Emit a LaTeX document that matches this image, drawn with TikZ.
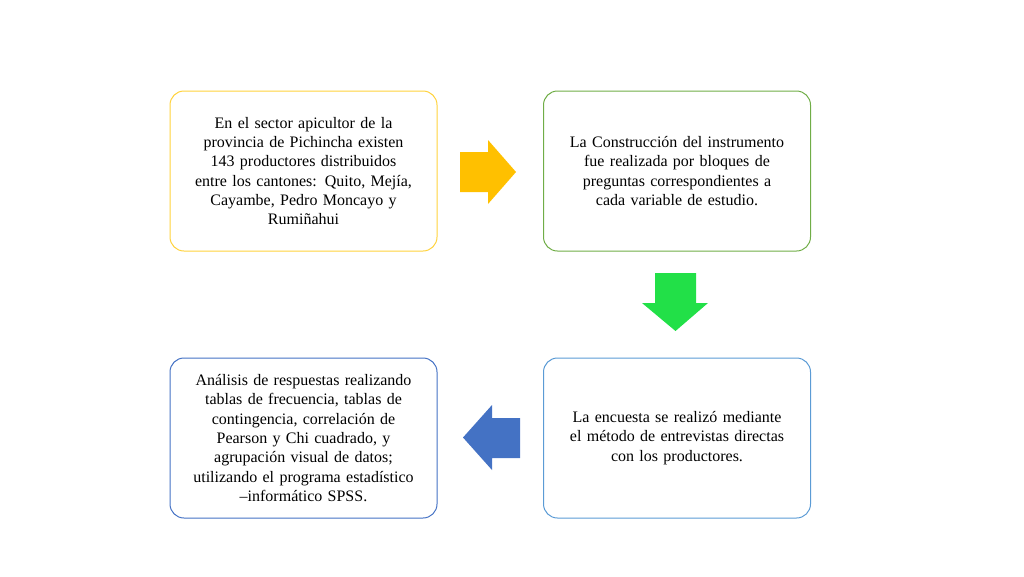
\documentclass[tikz,border=0pt]{standalone}
\usepackage{fontspec}
\setmainfont{Liberation Serif}
\definecolor{cy}{RGB}{255,210,60}
\definecolor{cg}{RGB}{112,173,71}
\definecolor{cl}{RGB}{91,155,213}
\definecolor{cd}{RGB}{68,114,196}
\definecolor{ay}{RGB}{255,192,0}
\definecolor{ag}{RGB}{34,224,72}
\begin{document}
\begin{tikzpicture}[x=1pt,y=-1pt,
  box/.style={draw=#1,line width=1pt,rounded corners=14pt,minimum width=267pt,minimum height=160pt,align=center,text width=250pt,font=\fontsize{16}{19.3}\selectfont,inner sep=0pt}]
\useasboundingbox (0,0) rectangle (1024,576);
\node[box=cy] (a) at (303.5,171) {En el sector apicultor de la\\provincia de Pichincha existen\\143 productores distribuidos\\entre los cantones: Quito, Mejía,\\Cayambe, Pedro Moncayo y\\Rumiñahui};
\node[box=cg] (b) at (677,171) {La Construcción del instrumento\\fue realizada por bloques de\\preguntas correspondientes a\\cada variable de estudio.};
\node[box=cl] (c) at (677,438) {La encuesta se realizó mediante\\el método de entrevistas directas\\con los productores.};
\node[box=cd] (d) at (303.5,438) {Análisis de respuestas realizando\\tablas de frecuencia, tablas de\\contingencia, correlación de\\Pearson y Chi cuadrado, y\\agrupación visual de datos;\\utilizando el programa estadístico\\–informático SPSS.};
\fill[ay] (460,152) -- (488,152) -- (488,140) -- (516,172) -- (488,204) -- (488,192) -- (460,192) -- cycle;
\fill[ag] (655,273) -- (696,273) -- (696,303) -- (708,303) -- (675.5,331) -- (642,303) -- (655,303) -- cycle;
\fill[cd] (520,418) -- (492,418) -- (492,405) -- (463,437.5) -- (492,470) -- (492,458) -- (520,458) -- cycle;
\end{tikzpicture}
\end{document}
